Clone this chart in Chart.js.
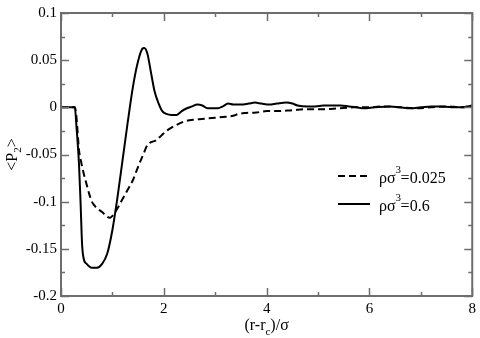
<!DOCTYPE html>
<html>
<head>
<meta charset="utf-8">
<script src="https://cdn.jsdelivr.net/npm/chart.js@4/dist/chart.umd.min.js"></script>
<style>
  html, body { margin: 0; padding: 0; background: #fff; }
  #wrap { width: 480px; height: 338px; }
</style>
</head>
<body>
<div id="wrap"><canvas id="myChart" width="480" height="338"></canvas></div>
<script>
// rho sigma^3 = 0.025 (dashed)
var xLow = [0, 0.27, 0.3, 0.35, 0.4, 0.45, 0.5, 0.55, 0.6, 0.65, 0.7, 0.8, 0.9, 0.95, 1.0, 1.1, 1.2, 1.3, 1.4, 1.5, 1.6, 1.68, 1.75, 1.85, 1.95, 2.05, 2.2, 2.4, 2.6, 2.8, 3.0, 3.2, 3.35, 3.45, 3.6, 3.8, 4.0, 4.2, 4.5, 4.8, 5.1, 5.4, 5.7, 6.0, 6.3, 6.6, 6.9, 7.2, 7.5, 7.8, 8.0];
var yLow = [0, 0, -0.01, -0.045, -0.06, -0.072, -0.082, -0.092, -0.1, -0.104, -0.107, -0.111, -0.116, -0.117, -0.115, -0.107, -0.097, -0.087, -0.077, -0.063, -0.05, -0.04, -0.037, -0.035, -0.03, -0.025, -0.02, -0.015, -0.013, -0.012, -0.011, -0.01, -0.009, -0.007, -0.006, -0.0055, -0.004, -0.004, -0.003, -0.002, -0.002, -0.001, 0, 0, 0.001, 0, -0.001, 0, 0.001, 0, 0.002];

// rho sigma^3 = 0.6 (solid)
var xHigh = [0, 0.27, 0.3, 0.35, 0.38, 0.41, 0.44, 0.5, 0.6, 0.7, 0.8, 0.9, 1.0, 1.1, 1.2, 1.3, 1.4, 1.5, 1.58, 1.62, 1.68, 1.75, 1.82, 1.9, 1.97, 2.05, 2.15, 2.25, 2.35, 2.45, 2.55, 2.65, 2.75, 2.85, 2.95, 3.05, 3.15, 3.25, 3.35, 3.5, 3.65, 3.77, 3.9, 4.05, 4.2, 4.38, 4.5, 4.6, 4.8, 4.95, 5.1, 5.25, 5.44, 5.6, 5.75, 5.89, 6.1, 6.4, 6.6, 6.79, 7.0, 7.2, 7.37, 7.6, 7.82, 8.0];
var yHigh = [0, 0, -0.02, -0.06, -0.1, -0.145, -0.16, -0.166, -0.17, -0.17, -0.166, -0.155, -0.13, -0.095, -0.055, -0.015, 0.022, 0.049, 0.062, 0.063, 0.057, 0.037, 0.017, 0.004, -0.004, -0.007, -0.008, -0.008, -0.004, -0.001, 0.001, 0.003, 0.002, -0.001, -0.001, -0.001, 0.001, 0.004, 0.003, 0.003, 0.004, 0.005, 0.004, 0.003, 0.004, 0.005, 0.004, 0.002, 0.001, 0.001, 0.002, 0.002, 0.002, 0.001, 0.0, -0.001, 0.0, 0.001, 0.0, -0.001, 0.0, 0.001, 0.001, 0.0, 0.0, 0.002];

var xTicks = [0, 2, 4, 6, 8];
var yTicks = [-0.2, -0.15, -0.1, -0.05, 0, 0.05, 0.1];
var legendText = ["=0.025", "=0.6"];

var FONT = "'Liberation Serif', 'DejaVu Serif', serif";
var AXIS = "#6e6e6e";

function pts(xs, ys) {
  return xs.map(function(x, i){ return {x: x, y: ys[i]}; });
}

// frame, inside ticks (major + minor), legend and axis titles
var decor = {
  id: 'decor',
  afterDraw: function(chart){
    var c = chart.ctx, a = chart.chartArea;
    var xs = chart.scales.x, ys = chart.scales.y;
    c.save();
    c.strokeStyle = AXIS;
    c.lineWidth = 2;
    c.strokeRect(a.left, a.top, a.right - a.left, a.bottom - a.top);
    c.lineWidth = 1.5;
    c.beginPath();
    for (var v = 0; v <= 8; v++) {
      var px = Math.round(xs.getPixelForValue(v)) + 0.5;
      var len = v % 2 === 0 ? 8 : 4;
      c.moveTo(px, a.bottom); c.lineTo(px, a.bottom - len);
      c.moveTo(px, a.top); c.lineTo(px, a.top + len);
    }
    for (var k = -8; k <= 4; k++) {
      var val = k * 0.025;
      var py = Math.round(ys.getPixelForValue(val)) + 0.5;
      var l2 = k % 2 === 0 ? 8 : 4;
      c.moveTo(a.left, py); c.lineTo(a.left + l2, py);
      c.moveTo(a.right, py); c.lineTo(a.right - l2, py);
    }
    c.stroke();

    // legend
    var lx = a.left + 277, ly = a.top + 163;
    chart.data.datasets.forEach(function(ds, i){
      var y = ly + i * 28;
      c.strokeStyle = '#000';
      c.lineWidth = 2;
      c.setLineDash(ds.borderDash || []);
      c.beginPath(); c.moveTo(lx, y); c.lineTo(lx + 32, y); c.stroke();
      c.setLineDash([]);
      c.fillStyle = '#000';
      c.textBaseline = 'alphabetic';
      c.textAlign = 'left';
      c.font = "16px " + FONT;
      var tx = lx + 41;
      c.fillText("ρσ", tx, y + 7);
      var w = c.measureText("ρσ").width;
      c.font = "11px " + FONT;
      c.fillText("3", tx + w, y - 3);
      c.font = "16px " + FONT;
      c.fillText(legendText[i], tx + w + 5, y + 7);
    });

    // x title
    c.font = "16px " + FONT;
    c.fillStyle = '#000';
    var p1 = "(r-r", p2 = ")/σ";
    var w1 = c.measureText(p1).width, w3 = c.measureText(p2).width;
    c.font = "11px " + FONT;
    var w2 = c.measureText("c").width;
    var total = w1 + w2 + w3;
    var cx = (a.left + a.right) / 2 - total / 2;
    var by = 330;
    c.font = "16px " + FONT;
    c.fillText(p1, cx, by);
    c.font = "11px " + FONT;
    c.fillText("c", cx + w1, by + 5);
    c.font = "16px " + FONT;
    c.fillText(p2, cx + w1 + w2, by);

    // y title
    c.translate(17, (a.top + a.bottom) / 2);
    c.rotate(-Math.PI / 2);
    c.font = "16px " + FONT;
    var q1 = "<P", q3 = ">";
    var v1 = c.measureText(q1).width, v3 = c.measureText(q3).width;
    c.font = "11px " + FONT;
    var v2 = c.measureText("2").width;
    var sx = -(v1 + v2 + v3) / 2;
    c.font = "16px " + FONT;
    c.fillText(q1, sx, 0);
    c.font = "11px " + FONT;
    c.fillText("2", sx + v1, 4);
    c.font = "16px " + FONT;
    c.fillText(q3, sx + v1 + v2, 0);
    c.restore();
  }
};

var ctx = document.getElementById("myChart");
var myChart = new Chart(ctx, {
  type: 'line',
  data: {
    datasets: [{
      label: 'ρσ³=0.025',
      data: pts(xLow, yLow),
      borderColor: '#000',
      borderWidth: 2,
      borderDash: [7, 4],
      pointRadius: 0,
      cubicInterpolationMode: 'monotone',
      fill: false
    }, {
      label: 'ρσ³=0.6',
      data: pts(xHigh, yHigh),
      borderColor: '#000',
      borderWidth: 2,
      pointRadius: 0,
      cubicInterpolationMode: 'monotone',
      fill: false
    }]
  },
  options: {
    responsive: false,
    animation: false,
    devicePixelRatio: 1,
    layout: { padding: { top: 5, right: 4, left: 0, bottom: 0 } },
    plugins: {
      legend: { display: false },
      tooltip: { enabled: false }
    },
    scales: {
      x: {
        type: 'linear',
        min: 0, max: 8,
        afterBuildTicks: function(s){ s.ticks = xTicks.map(function(v){ return {value: v}; }); },
        afterFit: function(s){ s.height = 42; },
        grid: { display: false, drawTicks: false },
        border: { display: false },
        ticks: {
          padding: 4,
          color: '#000',
          font: { family: FONT, size: 15 },
          maxRotation: 0,
          callback: function(v){ return String(v); }
        }
      },
      y: {
        min: -0.2, max: 0.1,
        afterBuildTicks: function(s){ s.ticks = yTicks.map(function(v){ return {value: v}; }); },
        afterFit: function(s){ s.width = 61; },
        grid: { display: false, drawTicks: false },
        border: { display: false },
        ticks: {
          padding: 4,
          color: '#000',
          font: { family: FONT, size: 15 },
          callback: function(v){ return String(Math.round(v * 1000) / 1000); }
        }
      }
    }
  },
  plugins: [decor]
});
</script>
</body>
</html>
